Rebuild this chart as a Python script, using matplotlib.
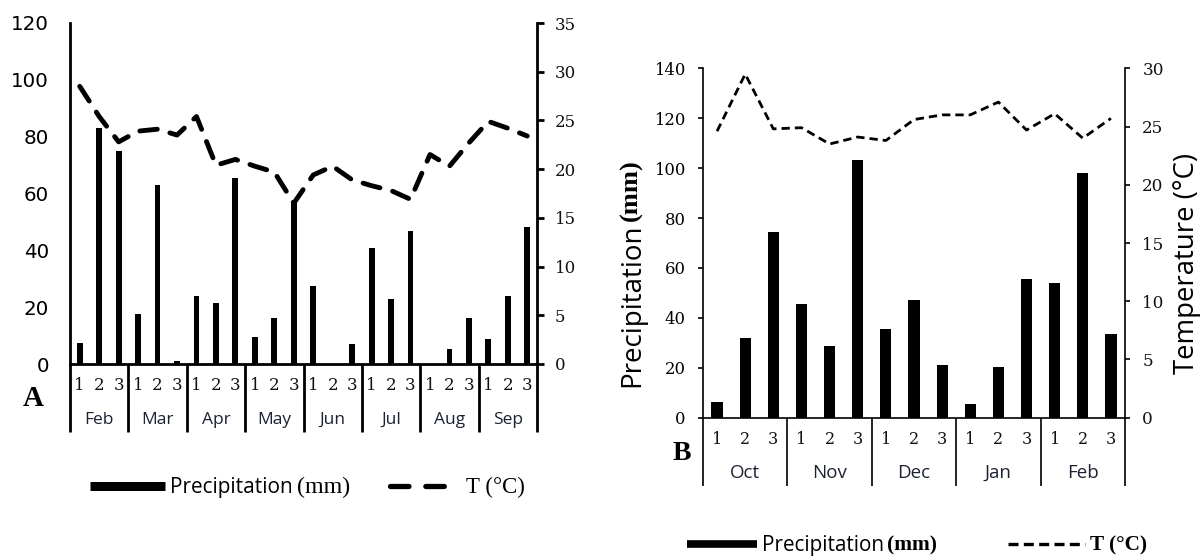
import matplotlib
matplotlib.use("Agg")
import matplotlib.pyplot as plt
from matplotlib.lines import Line2D
import matplotlib.transforms as mtransforms

# ---------------- data ----------------
dekads = ["1", "2", "3"]
months_a = ["Feb", "Mar", "Apr", "May", "Jun", "Jul", "Aug", "Sep"]
precip_a = [7.4, 83.2, 75.0, 17.6, 62.9, 1.0, 24.1, 21.4, 65.3, 9.4, 16.2, 57.0,
            27.4, 0.0, 7.1, 40.8, 22.7, 46.8, 0.0, 5.3, 16.2, 8.8, 23.8, 48.2]
temp_a = [28.5, 25.4, 22.8, 23.9, 24.1, 23.5, 25.4, 20.4, 21.0, 20.3, 19.7, 16.5,
          19.4, 20.3, 18.9, 18.3, 17.8, 16.9, 21.5, 20.3, 22.7, 24.9, 24.2, 23.4]

months_b = ["Oct", "Nov", "Dec", "Jan", "Feb"]
precip_b = [6.4, 31.8, 74.5, 45.4, 28.8, 103.2, 35.5, 47.2, 21.1, 5.3, 20.4, 55.4,
            53.8, 97.9, 33.4]
temp_b = [24.6, 29.5, 24.8, 24.9, 23.5, 24.1, 23.8, 25.6, 26.0, 26.0, 27.1, 24.7,
          26.1, 24.0, 25.7]

W, H = 1203, 557
fig = plt.figure(figsize=(W / 100, H / 100), dpi=100)

SANS = "DejaVu Sans"
SERIF = "DejaVu Serif"
TSERIF = "Liberation Serif"
CAL = "Open Sans"


def px_axes(l, r, top, bottom):
    return [l / W, 1 - bottom / H, (r - l) / W, (bottom - top) / H]


def draw_panel(rect, months, precip, temp, ylim1, yt1, ylim2, yt2, bar_w, lw_ax,
               num_y, mon_y, sep_y, line_kw, lfont, lsize, lpad, rsize, rpad,
               numsize, monsize, left_ticks, right_ticks):
    ax = fig.add_axes(rect)
    n = len(precip)
    x = list(range(n))
    ax.bar(x, precip, width=bar_w, color="black", zorder=2)
    ax.set_xlim(-0.5, n - 0.5)
    ax.set_ylim(*ylim1)
    ax.set_yticks(yt1)
    for s in ["top", "right"]:
        ax.spines[s].set_visible(False)
    for s in ["left", "bottom"]:
        ax.spines[s].set_linewidth(lw_ax)
    ax.set_xticks([])
    ax.tick_params(axis="y", length=left_ticks, width=lw_ax, direction="out", pad=lpad)
    for lab in ax.get_yticklabels():
        lab.set_fontfamily(lfont)
        lab.set_fontsize(lsize)
        lab.set_color("black")

    ax2 = ax.twinx()
    ax2.plot(x, temp, color="black", **line_kw)
    ax2.set_ylim(*ylim2)
    ax2.set_yticks(yt2)
    for s in ["top", "left", "bottom"]:
        ax2.spines[s].set_visible(False)
    ax2.spines["right"].set_linewidth(lw_ax)
    ax2.tick_params(axis="y", length=right_ticks, width=lw_ax, direction="out", pad=rpad)
    for lab in ax2.get_yticklabels():
        lab.set_fontfamily(SERIF)
        lab.set_fontsize(rsize)
        lab.set_color("#111111")

    trans = mtransforms.blended_transform_factory(ax.transData, ax.transAxes)
    for i in range(n):
        ax.text(i, num_y, dekads[i % 3], transform=trans, ha="center", va="center",
                fontfamily=SERIF, fontsize=numsize, color="#111111")
    for m, name in enumerate(months):
        ax.text(3 * m + 1, mon_y, name, transform=trans, ha="center", va="center",
                fontfamily=CAL, fontsize=monsize, color="#1c2233")
    for m in range(len(months) + 1):
        ax.add_line(Line2D([3 * m - 0.5, 3 * m - 0.5], [0, sep_y], transform=trans,
                           color="black", lw=lw_ax, clip_on=False,
                           solid_capstyle="butt"))
    return ax, ax2


# ---------------- Panel A ----------------
rectA = px_axes(70, 537, 23, 364)
hA = 341
axA, axA2 = draw_panel(
    rectA, months_a, precip_a, temp_a, (0, 120), list(range(0, 121, 20)),
    (0, 35), list(range(0, 36, 5)), 0.3, 2.0,
    (364 - 385) / hA, (364 - 420) / hA, (364 - 432) / hA,
    dict(lw=3.5, dashes=(3.6, 2.7), dash_capstyle="round"),
    SANS, 14.3, 15, 12, 8, 12, 12.5, 0, 5)

# ---------------- Panel B ----------------
rectB = px_axes(703, 1125, 68.3, 417.7)
hB = 349.4
axB, axB2 = draw_panel(
    rectB, months_b, precip_b, temp_b, (0, 140), list(range(0, 141, 20)),
    (0, 30), list(range(0, 31, 5)), 0.4, 1.2,
    (417.7 - 440) / hB, (417.7 - 473) / hB, (417.7 - 486) / hB,
    dict(lw=2.0, dashes=(3.0, 1.8)),
    SERIF, 11.8, 9, 12.2, 9, 11.5, 13.5, 3.5, 3.5)


def fx(px):
    return px / W


def fy(py):
    return 1 - py / H


renderer = fig.canvas.get_renderer()


def fit_text(x, y, s, target_px, rotation=0, **kw):
    t = fig.text(x, y, s, fontsize=10, rotation=rotation, **kw)
    bb = t.get_window_extent(renderer)
    length = bb.height if rotation == 90 else bb.width
    t.set_fontsize(10 * target_px / length)
    return t


# axis titles for panel B
fit_text(fx(632), fy(387), "Precipitation", 164, rotation=90, ha="center",
         va="bottom", fontfamily=CAL, color="black")
fit_text(fx(631), fy(221), "(mm)", 62, rotation=90, ha="center", va="bottom",
         fontfamily=TSERIF, fontweight="bold", color="black")
fit_text(fx(1187), fy(263), "Temperature (°C)", 220, rotation=90, ha="center",
         va="center", fontfamily=CAL, color="black")

# panel letters
fig.text(fx(33), fy(399), "A", ha="center", va="center", fontfamily=TSERIF,
         fontsize=21, fontweight="bold")
fig.text(fx(682), fy(454), "B", ha="center", va="center", fontfamily=TSERIF,
         fontsize=20, fontweight="bold")

# legend A
fig.add_artist(Line2D([fx(90), fx(165)], [fy(486), fy(486)], color="black", lw=6.5,
                      solid_capstyle="butt"))
fit_text(fx(170), fy(487), "Precipitation", 123, ha="left", va="center",
         fontfamily=CAL)
fit_text(fx(297), fy(487), "(mm)", 53, ha="left", va="center", fontfamily=TSERIF)
fig.add_artist(Line2D([fx(390), fx(459)], [fy(486), fy(486)], color="black", lw=3.8,
                      dashes=(3.5, 3.2), dash_capstyle="round"))
fig.text(fx(466), fy(487), "T (°C)", ha="left", va="center", fontfamily=TSERIF,
         fontsize=16.5)

# legend B
fig.add_artist(Line2D([fx(687), fx(757)], [fy(544), fy(544)], color="black", lw=5.5,
                      solid_capstyle="butt"))
fit_text(fx(762), fy(545), "Precipitation", 122, ha="left", va="center",
         fontfamily=CAL)
fit_text(fx(887), fy(545), "(mm)", 50, ha="left", va="center", fontfamily=TSERIF,
         fontweight="bold")
fig.add_artist(Line2D([fx(1008), fx(1085)], [fy(544), fy(544)], color="black", lw=2.4,
                      dashes=(3.0, 1.6)))
fit_text(fx(1090), fy(545), "T (°C)", 57, ha="left", va="center", fontfamily=TSERIF,
         fontweight="bold")

fig.savefig("out.png", dpi=100)
